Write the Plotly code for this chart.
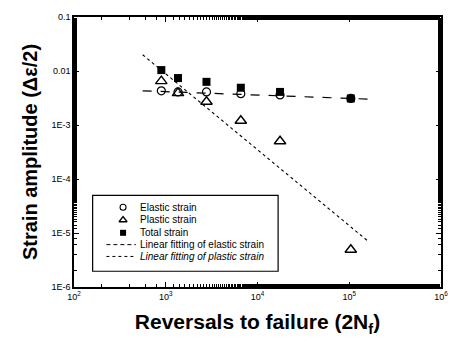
import plotly.graph_objects as go

# Data
reversals = [895, 1360, 2780, 6580, 17600, 104000]
elastic = [0.0043, 0.0041, 0.0041, 0.0038, 0.0036, 0.0031]
plastic = [0.0065, 0.0039, 0.0027, 0.0012, 0.0005, 0.0000049]
total = [0.0104, 0.0074, 0.0063, 0.0049, 0.0041, 0.0031]

fit_x = [560, 174000]
elastic_fit_y = [0.0043, 0.0030]
plastic_fit_x = [560, 158000]
plastic_fit_y = [0.020, 0.0000072]

y_tickvals = [1e-6, 1e-5, 1e-4, 1e-3, 1e-2, 1e-1]
y_ticktext = ["1E-6", "1E-5", "1E-4", "1E-3", "0.01", "0.1"]
x_tickvals = [1e2, 1e3, 1e4, 1e5, 1e6]
x_ticktext = ["10<sup>2</sup>", "10<sup>3</sup>", "10<sup>4</sup>", "10<sup>5</sup>", "10<sup>6</sup>"]

legend_labels = ["Elastic strain", "Plastic strain", "Total strain",
                 "Linear fitting of elastic strain", "<i>Linear fitting of plastic strain</i>"]

FONT = "Liberation Sans, Arial, sans-serif"

# plot-area pixel geometry
W, H = 460, 343
L, R, T, B = 74, 12, 13, 56
PW, PH = W - L - R, H - T - B


def px(x):
    return (x - L) / PW


def py(y):
    return (H - B - y) / PH


marker_styles = [
    dict(symbol="circle-open", size=8, color="black", line=dict(width=1.2)),
    dict(symbol="triangle-up-open", size=10, color="black", line=dict(width=1.4)),
    dict(symbol="square", size=8, color="black"),
]

fig = go.Figure()
for yv, ms in zip([elastic, plastic, total], marker_styles):
    fig.add_trace(go.Scatter(x=reversals, y=yv, mode="markers", marker=ms, showlegend=False))
fig.add_trace(go.Scatter(x=fit_x, y=elastic_fit_y, mode="lines", showlegend=False,
                         line=dict(color="black", width=1.2, dash="dash")))
fig.add_trace(go.Scatter(x=plastic_fit_x, y=plastic_fit_y, mode="lines", showlegend=False,
                         line=dict(color="black", width=1.1, dash="dot")))

# custom legend (overlay axes in paper-like units)
leg_rows = [206, 219, 232, 244, 256]
legend_marker_styles = [
    dict(symbol="circle-open", size=6, color="black", line=dict(width=1.1)),
    dict(symbol="triangle-up-open", size=7, color="black", line=dict(width=1.3)),
    dict(symbol="square", size=6, color="black"),
]
for row, ms in zip(leg_rows[:3], legend_marker_styles):
    fig.add_trace(go.Scatter(x=[px(124)], y=[py(row)], mode="markers", marker=ms,
                             xaxis="x2", yaxis="y2", showlegend=False, hoverinfo="skip"))
fig.add_trace(go.Scatter(x=[px(107), px(137)], y=[py(leg_rows[3])] * 2, mode="lines",
                         line=dict(color="black", width=1, dash="4px,3px"),
                         xaxis="x2", yaxis="y2", showlegend=False, hoverinfo="skip"))
fig.add_trace(go.Scatter(x=[px(107), px(137)], y=[py(leg_rows[4])] * 2, mode="lines",
                         line=dict(color="black", width=1, dash="dot"),
                         xaxis="x2", yaxis="y2", showlegend=False, hoverinfo="skip"))
for row, lab in zip(leg_rows, legend_labels):
    fig.add_annotation(x=px(139), y=py(row), xref="x2", yref="y2", text=lab, showarrow=False,
                       xanchor="left", yanchor="middle",
                       font=dict(family=FONT, size=10, color="black"))

fig.add_shape(type="rect", xref="paper", yref="paper",
              x0=px(93), x1=px(282), y0=py(271), y1=py(194),
              line=dict(color="black", width=1.2), fillcolor="rgba(0,0,0,0)")

axis_common = dict(
    type="log", showline=True, linecolor="black", linewidth=1.5, mirror="ticks",
    ticks="inside", ticklen=5, tickcolor="black", showgrid=False, zeroline=False,
    tickfont=dict(family=FONT, size=9, color="black"),
    minor=dict(ticks="inside", ticklen=3, tickcolor="black", showgrid=False),
)

fig.update_layout(
    width=W, height=H,
    margin=dict(l=L, r=R, t=T, b=B),
    paper_bgcolor="white", plot_bgcolor="white",
    showlegend=False,
    xaxis=dict(range=[2, 6], tickmode="array", tickvals=x_tickvals, ticktext=x_ticktext,
               title=dict(text="<b>Reversals to failure (2N<sub>f</sub>)</b>",
                          font=dict(family=FONT, size=21, color="black"), standoff=14),
               **axis_common),
    yaxis=dict(range=[-6, -1], tickmode="array", tickvals=y_tickvals, ticktext=y_ticktext,
               title=dict(text="<b>Strain amplitude (Δε/2)</b>",
                          font=dict(family=FONT, size=20, color="black"), standoff=8),
               **axis_common),
    xaxis2=dict(overlaying="x", range=[0, 1], visible=False, fixedrange=True),
    yaxis2=dict(overlaying="y", range=[0, 1], visible=False, fixedrange=True),
)

fig.write_html("out.html")
